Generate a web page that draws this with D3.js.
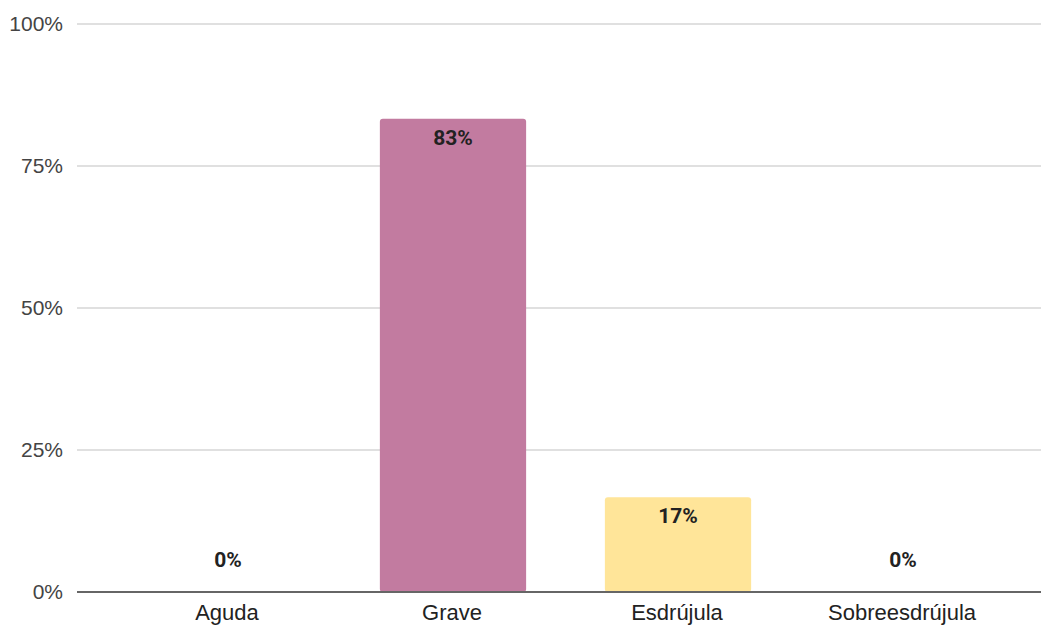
<!DOCTYPE html>
<html>
<head>
<meta charset="utf-8">
<script src="https://cdn.jsdelivr.net/npm/d3@7"></script>
<style>
  body { margin: 0; background: #fff; }
  svg { display: block; }
</style>
</head>
<body>
<div id="chart"></div>
<script>
// chart data
const categories = ["Aguda", "Grave", "Esdrújula", "Sobreesdrújula"];
const values = [0, 83.3, 16.7, 0];
const barColors = ["#c27ba0", "#c27ba0", "#ffe599", "#ffe599"];
const yTicks = [0, 25, 50, 75, 100];

let width = 1041;
let height = 625;

let opts = {
  left: 77,
  right_end: 1054,
  top: 24,
  bottom: 592,
  axis_font: "'Liberation Sans', Arial, sans-serif",
  label_font: "Roboto, 'Liberation Sans', Arial, sans-serif",
};

let svg = d3
  .select("#chart")
  .append("svg")
  .attr("width", width)
  .attr("height", height);

let x = d3
  .scaleBand()
  .domain(categories)
  .range([opts.left, opts.right_end])
  .paddingInner(0.35)
  .paddingOuter(0.346);

let y = d3.scaleLinear().domain([0, 100]).range([opts.bottom, opts.top]);

// gridlines (skip 0, baseline drawn later)
svg
  .selectAll(".grid")
  .data(yTicks.filter((d) => d > 0))
  .join("line")
  .attr("class", "grid")
  .attr("x1", opts.left)
  .attr("x2", opts.right_end)
  .attr("y1", (d) => y(d))
  .attr("y2", (d) => y(d))
  .attr("stroke", "#d6d6d6")
  .attr("stroke-width", 1.5);

// y tick labels
svg
  .selectAll(".ylab")
  .data(yTicks)
  .join("text")
  .attr("class", "ylab")
  .attr("x", 63)
  .attr("y", (d) => y(d) + 7)
  .attr("text-anchor", "end")
  .attr("font-family", opts.axis_font)
  .attr("font-size", 21)
  .attr("fill", "#444")
  .text((d) => d + "%");

// bars
let data = categories.map((c, i) => ({ cat: c, val: values[i], color: barColors[i] }));

svg
  .selectAll(".bar")
  .data(data.filter((d) => d.val > 0))
  .join("rect")
  .attr("class", "bar")
  .attr("x", (d) => x(d.cat))
  .attr("y", (d) => y(d.val))
  .attr("width", x.bandwidth())
  .attr("height", (d) => y(0) - y(d.val))
  .attr("rx", 3)
  .attr("ry", 3)
  .attr("fill", (d) => d.color);

// baseline
svg
  .append("line")
  .attr("x1", opts.left)
  .attr("x2", opts.right_end)
  .attr("y1", y(0))
  .attr("y2", y(0))
  .attr("stroke", "#666")
  .attr("stroke-width", 2);

// value labels: inside bar top if it fits, else above baseline
svg
  .selectAll(".vlab")
  .data(data)
  .join("text")
  .attr("class", "vlab")
  .attr("x", (d) => x(d.cat) + x.bandwidth() / 2)
  .attr("y", (d) => (y(0) - y(d.val) > 30 ? y(d.val) + 26 : y(0) - 25))
  .attr("text-anchor", "middle")
  .attr("font-family", opts.label_font)
  .attr("font-weight", "bold")
  .attr("font-size", 21)
  .attr("fill", "#222")
  .text((d) => Math.round(d.val) + "%");

// x labels
svg
  .selectAll(".xlab")
  .data(categories)
  .join("text")
  .attr("class", "xlab")
  .attr("x", (d) => x(d) + x.bandwidth() / 2 - 1)
  .attr("y", y(0) + 28)
  .attr("text-anchor", "middle")
  .attr("font-family", opts.axis_font)
  .attr("font-size", 22)
  .attr("fill", "#222")
  .text((d) => d);
</script>
</body>
</html>
